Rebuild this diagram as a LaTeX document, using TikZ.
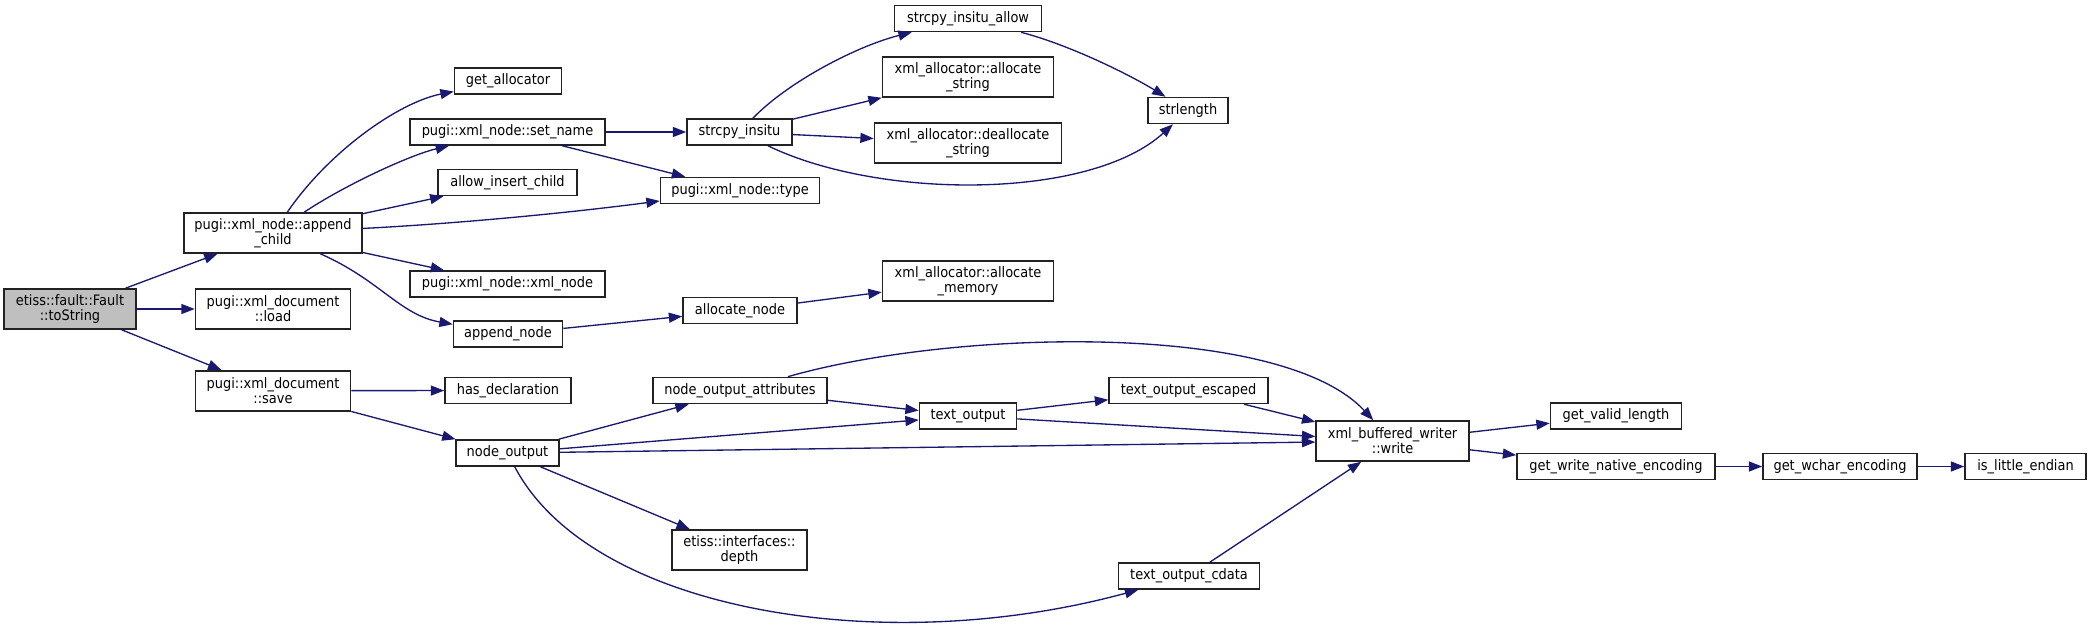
\documentclass[tikz,border=0pt]{standalone}
\usepackage{fontspec}
\setmainfont{DejaVu Sans}[FakeStretch=0.9]
\usetikzlibrary{arrows.meta}
\definecolor{edgeblue}{HTML}{191970}
\definecolor{nodeborder}{HTML}{222222}
\definecolor{nodefill}{HTML}{BFBFBF}
\begin{document}
\begin{tikzpicture}[x=0.75pt,y=-0.75pt,
  fn/.style={draw=nodeborder, line width=1.2pt, fill=white, inner sep=0pt, align=center,
    font=\fontsize{10.8pt}{11.25pt}\selectfont, minimum height=19.5pt},
  tall/.style={minimum height=30pt},
  bw/.style={minimum width=#1*0.75pt},
  root/.style={fill=nodefill},
  call/.style={draw=edgeblue, line width=1pt, -{Triangle[length=10pt,width=7.5pt]}, color=edgeblue}
]
\path[fill=white] (0,0) rectangle (2092,625);
\useasboundingbox (0,0) rectangle (2092,625);

% column 0
\node[fn,root,tall,bw=132] (ts) at (70,309) {etiss::fault::Fault\\::toString};
% column 1
\node[fn,tall,bw=178] (ac) at (273,233) {pugi::xml\_node::append\\\_child};
\node[fn,tall,bw=155] (ld) at (273,309) {pugi::xml\_document\\::load};
\node[fn,tall,bw=155] (sv) at (273,390.7) {pugi::xml\_document\\::save};
% column 2
\node[fn,bw=107] (ga) at (508,81) {get\_allocator};
\node[fn,bw=195] (sn) at (507.5,132) {pugi::xml\_node::set\_name};
\node[fn,bw=139] (ai) at (507.5,182.5) {allow\_insert\_child};
\node[fn,bw=195] (xn) at (507.5,284) {pugi::xml\_node::xml\_node};
\node[fn,bw=109] (an) at (508,334) {append\_node};
\node[fn,bw=126] (hd) at (508,390.5) {has\_declaration};
\node[fn,bw=103] (no) at (507.5,453) {node\_output};
% column 3
\node[fn,bw=105] (si) at (739.5,132) {strcpy\_insitu};
\node[fn,bw=159] (ty) at (740,190.5) {pugi::xml\_node::type};
\node[fn,bw=114] (al) at (740,310.5) {allocate\_node};
\node[fn,bw=174] (noa) at (740,390.5) {node\_output\_attributes};
\node[fn,tall,bw=135] (dp) at (739.5,550) {etiss::interfaces::\\depth};
% column 4
\node[fn,bw=147] (sia) at (968,18.5) {strcpy\_insitu\_allow};
\node[fn,tall,bw=171] (as) at (968,77) {xml\_allocator::allocate\\\_string};
\node[fn,tall,bw=187] (ds) at (968,143) {xml\_allocator::deallocate\\\_string};
\node[fn,tall,bw=171] (am) at (968,281) {xml\_allocator::allocate\\\_memory};
\node[fn,bw=97] (to) at (968,416) {text\_output};
% column 5
\node[fn,bw=80] (sl) at (1188,110.5) {strlength};
\node[fn,bw=159] (toe) at (1188.5,390.5) {text\_output\_escaped};
\node[fn,bw=141] (toc) at (1189,576) {text\_output\_cdata};
% column 6+
\node[fn,tall,bw=153] (wr) at (1392.6,441) {xml\_buffered\_writer\\::write};
\node[fn,bw=131] (gvl) at (1616,415.7) {get\_valid\_length};
\node[fn,bw=198] (gwn) at (1616,466.5) {get\_write\_native\_encoding};
\node[fn,bw=154] (gwc) at (1840,466.5) {get\_wchar\_encoding};
\node[fn,bw=121] (ile) at (2025.5,466.5) {is\_little\_endian};

% edges
\draw[call] (ts) -- (ac);
\draw[call] (ts) -- (ld);
\draw[call] (ts) -- (sv);
\draw[call] (ac) .. controls (330,150) and (400,102) .. (ga);
\draw[call] (ac) .. controls (345,185) and (410,155) .. (sn);
\draw[call] (ac) -- (ai);
\draw[call] (ac) .. controls (450,224) and (560,214) .. (ty);
\draw[call] (ac) -- (xn);
\draw[call] (ac) .. controls (380,280) and (400,315) .. (an);
\draw[call] (sn) -- (si);
\draw[call] (sn) -- (ty);
\draw[call] (si) .. controls (790,80) and (860,45) .. (sia);
\draw[call] (si) -- (as);
\draw[call] (si) -- (ds);
\draw[call] (si) .. controls (880,200) and (1090,200) .. (sl);
\draw[call] (sia) .. controls (1070,45) and (1130,75) .. (sl);
\draw[call] (an) -- (al);
\draw[call] (al) -- (am);
\draw[call] (sv) -- (hd);
\draw[call] (sv) -- (no);
\draw[call] (no) -- (noa);
\draw[call] (no) -- (to);
\draw[call] (no) -- (wr);
\draw[call] (no) -- (dp);
\draw[call] (no) .. controls (590,610) and (880,660) .. (toc);
\draw[call] (noa) -- (to);
\draw[call] (noa) .. controls (950,330) and (1280,320) .. (wr);
\draw[call] (to) -- (toe);
\draw[call] (to) -- (wr);
\draw[call] (toe) -- (wr);
\draw[call] (toc) -- (wr);
\draw[call] (wr) -- (gvl);
\draw[call] (wr) -- (gwn);
\draw[call] (gwn) -- (gwc);
\draw[call] (gwc) -- (ile);
\end{tikzpicture}
\end{document}
